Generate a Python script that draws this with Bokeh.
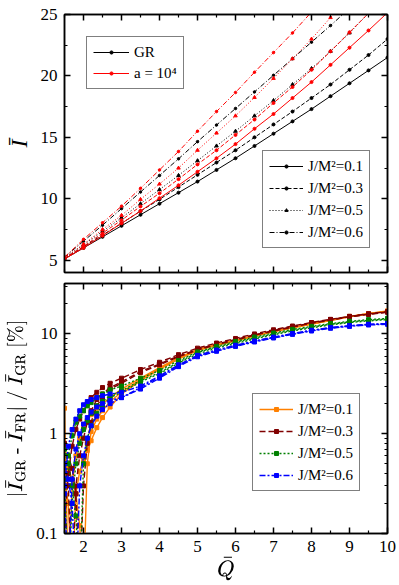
from bokeh.plotting import figure
from bokeh.layouts import column
from bokeh.models import (Range1d, LinearAxis, LogAxis, Legend, LegendItem,
                          FixedTicker, NumeralTickFormatter, CustomJSTickFormatter)
from bokeh.embed import file_html
from bokeh.resources import INLINE

FONT = "'Liberation Serif'"

# ---------------- data: top panel (I-bar vs Q-bar) ----------------
q_top = [1.5, 2.0, 2.5, 3.0, 3.5, 4.0, 4.5, 5.0, 5.5, 6.0, 6.5, 7.0, 7.5, 8.0, 8.5, 9.0, 9.5, 10.0]

i_gr_01 = [5.1, 6.0, 6.9, 7.8, 8.7, 9.6, 10.5, 11.4, 12.35, 13.3, 14.3, 15.3, 16.3, 17.3, 18.35, 19.4, 20.45, 21.5]
i_gr_03 = [5.15, 6.1, 7.05, 8.0, 9.0, 9.95, 10.95, 11.95, 12.95, 13.95, 15.0, 16.05, 17.1, 18.2, 19.3, 20.5, 21.7, 23.0]
i_gr_05 = [5.2, 6.25, 7.35, 8.45, 9.6, 10.75, 11.9, 13.1, 14.3, 15.5, 16.75, 18.0, 19.3, 20.6, 22.0, 23.5, 25.1]
i_gr_06 = [5.25, 6.55, 7.85, 9.2, 10.55, 11.9, 13.25, 14.65, 16.0, 17.35, 18.7, 20.05, 21.4, 22.75, 24.1, 25.5]

i_fr_01 = [5.1, 6.0, 7.0, 8.0, 9.0, 10.05, 11.1, 12.2, 13.3, 14.45, 15.7, 16.9, 18.2, 19.5, 20.9, 22.3, 23.7, 25.15]
i_fr_03 = [5.15, 6.12, 7.2, 8.26, 9.38, 10.45, 11.6, 12.8, 13.95, 15.2, 16.45, 17.8, 19.1, 20.5, 22.0, 23.55, 25.1]
i_fr_05 = [5.2, 6.3, 7.5, 8.65, 9.95, 11.2, 12.5, 13.95, 15.35, 16.75, 18.25, 19.8, 21.4, 23.0, 24.75, 26.6]
i_fr_06 = [5.25, 6.7, 8.05, 9.4, 10.85, 12.35, 13.85, 15.5, 17.1, 18.65, 20.3, 21.9, 23.5, 25.2]

# ---------------- data: bottom panel (relative difference, %) ----------------
q_bot = [1.5, 1.6, 1.7, 1.8, 1.9, 2.0, 2.1, 2.2, 2.35, 2.5, 2.7, 3.0,
         3.5, 4.0, 4.5, 5.0, 5.5, 6.0, 6.5, 7.0, 7.5, 8.0, 8.5, 9.0, 9.5, 10.0]

d01_a = [1.8, 0.03, 0.3, 0.6, 0.9, 1.15, 1.35, 1.55, 1.8, 2.0, 2.3, 2.8,
         3.6, 4.6, 5.8, 7.0, 7.8, 8.6, 9.6, 10.6, 11.6, 12.6, 13.8, 15.0, 16.0, 17.0]
d01_b = [0.35, 0.2, 0.03, 0.25, 0.42, 0.55, 0.68, 0.85, 1.15, 1.45, 1.85, 2.5,
         3.4, 4.4, 5.6, 6.8, 7.7, 8.5, 9.5, 10.5, 11.5, 12.5, 13.6, 14.8, 15.8, 16.8]
d01_c = [0.6, 0.45, 0.35, 0.25, 0.12, 0.03, 0.5, 1.05, 1.4, 1.7, 2.1, 2.6,
         3.5, 4.5, 5.7, 6.9, 7.8, 8.6, 9.6, 10.6, 11.6, 12.6, 13.7, 14.9, 15.9, 16.9]

d03_a = [0.5, 0.3, 0.03, 0.3, 0.6, 0.9, 1.3, 1.7, 2.2, 2.5, 2.9, 3.3,
         4.2, 5.0, 6.0, 7.0, 7.9, 8.8, 9.8, 10.8, 11.8, 12.9, 13.9, 14.9, 15.8, 16.6]
d03_b = [0.8, 0.6, 0.45, 0.25, 0.03, 0.3, 0.8, 1.3, 1.9, 2.3, 2.8, 3.2,
         4.1, 4.9, 5.9, 6.9, 7.8, 8.7, 9.7, 10.7, 11.7, 12.8, 13.8, 14.8, 15.7, 16.5]
d03_c = [0.12, 0.4, 0.75, 1.1, 1.4, 1.7, 2.0, 2.3, 2.6, 2.9, 3.2, 3.6,
         4.4, 5.2, 6.2, 7.2, 8.1, 9.0, 10.0, 11.0, 12.0, 13.0, 14.0, 15.0, 15.9, 16.7]

d05_a = [0.35, 0.03, 0.2, 0.5, 0.8, 1.1, 1.35, 1.6, 1.9, 2.1, 2.4, 2.7,
         3.4, 4.1, 5.2, 6.5, 7.4, 8.2, 9.1, 10.0, 10.9, 11.7, 12.5, 13.2, 13.7, 14.1]
d05_b = [0.7, 0.5, 0.3, 0.15, 0.03, 0.5, 0.9, 1.2, 1.6, 1.9, 2.3, 2.6,
         3.3, 4.0, 5.1, 6.3, 7.2, 8.0, 8.9, 9.8, 10.7, 11.5, 12.3, 13.0, 13.5, 13.9]
d05_c = [0.25, 0.6, 0.95, 1.3, 1.5, 1.7, 1.9, 2.05, 2.3, 2.5, 2.75, 3.0,
         3.6, 4.3, 5.4, 6.6, 7.5, 8.4, 9.3, 10.2, 11.1, 11.9, 12.7, 13.4, 13.9, 14.3]

d06_a = [0.3, 0.75, 1.1, 1.4, 1.7, 1.95, 2.1, 2.2, 2.3, 2.4, 2.5, 2.6,
         3.0, 3.8, 4.9, 6.1, 6.9, 7.7, 8.5, 9.3, 10.1, 10.9, 11.6, 12.1, 12.5, 12.7]
d06_b = [0.25, 0.03, 0.35, 0.7, 1.0, 1.25, 1.45, 1.65, 1.85, 2.0, 2.15, 2.3,
         2.9, 3.7, 4.8, 6.0, 6.8, 7.6, 8.4, 9.2, 10.0, 10.8, 11.5, 12.0, 12.4, 12.6]
d06_c = [0.5, 0.35, 0.2, 0.03, 0.3, 0.6, 0.9, 1.2, 1.5, 1.75, 2.0, 2.3,
         2.8, 3.6, 4.7, 5.9, 6.7, 7.5, 8.3, 9.1, 9.9, 10.7, 11.4, 11.9, 12.3, 12.5]

j_labels = ["J/M²=0.1", "J/M²=0.3", "J/M²=0.5", "J/M²=0.6"]
legend_gr = ["GR", "a = 10⁴"]

blank = CustomJSTickFormatter(code="return ''")


def style_axis(ax, show_labels=True):
    ax.axis_line_width = 1.5
    ax.axis_line_color = "black"
    ax.major_tick_in = 6
    ax.major_tick_out = 0
    ax.minor_tick_in = 3
    ax.minor_tick_out = 0
    ax.major_tick_line_width = 1.5
    ax.minor_tick_line_width = 1.2
    ax.major_label_text_font = FONT
    ax.major_label_text_font_size = "17px"
    ax.major_label_text_color = "black"
    ax.major_label_standoff = 7
    ax.axis_label_text_font = FONT
    ax.axis_label_text_font_style = "normal"
    ax.axis_label_text_color = "black"
    if not show_labels:
        ax.formatter = blank
        ax.major_label_standoff = 0


def base_fig(y_range, y_type, height, btop, bbottom):
    p = figure(width=399, height=height, x_range=Range1d(1.5, 10), y_range=y_range,
               y_axis_type=y_type, output_backend="svg", toolbar_location=None,
               min_border_left=61, min_border_right=12, min_border_top=btop,
               min_border_bottom=bbottom)
    p.grid.visible = False
    p.outline_line_color = "black"
    p.outline_line_width = 1.5
    p.background_fill_color = "white"
    p.border_fill_color = "white"
    return p


x_major = [2, 3, 4, 5, 6, 7, 8, 9, 10]
x_minor = [1.5, 2.5, 3.5, 4.5, 5.5, 6.5, 7.5, 8.5, 9.5]

# ---------------- top panel ----------------
p1 = base_fig(Range1d(4, 25), "linear", 277, 14, 5)
y1_ticker = FixedTicker(ticks=[5, 10, 15, 20, 25], minor_ticks=[7.5, 12.5, 17.5, 22.5])
x1_ticker = FixedTicker(ticks=x_major, minor_ticks=x_minor)
p1.xaxis.ticker = x1_ticker
p1.yaxis.ticker = y1_ticker
style_axis(p1.xaxis[0], False)
style_axis(p1.yaxis[0], True)
p1.yaxis.axis_label = "Ī"
p1.yaxis.axis_label_text_font_size = "24px"
p1.yaxis.axis_label_text_font_style = "italic"
p1.yaxis.axis_label_standoff = 6
ax_top = LinearAxis(ticker=x1_ticker)
ax_right = LinearAxis(ticker=y1_ticker)
style_axis(ax_top, False)
style_axis(ax_right, False)
p1.add_layout(ax_top, "above")
p1.add_layout(ax_right, "right")

gr_sets = [i_gr_01, i_gr_03, i_gr_05, i_gr_06]
fr_sets = [i_fr_01, i_fr_03, i_fr_05, i_fr_06]
top_dash = ["solid", "4 2", "1 2", "5 2 1 2"]
top_marker = ["circle", "circle", "triangle", "circle"]
top_msize = [3, 3, 3.5, 2.5]

gr_renderers = []
fr_renderers = []
for k in range(4):
    ys = gr_sets[k]
    xs = q_top[:len(ys)]
    l = p1.line(xs, ys, line_color="black", line_width=1, line_dash=top_dash[k])
    s = p1.scatter(xs, ys, marker=top_marker[k], size=top_msize[k], fill_color="black",
                   line_color="black")
    gr_renderers.append((l, s))
for k in range(4):
    ys = fr_sets[k]
    xs = q_top[:len(ys)]
    l = p1.line(xs, ys, line_color="red", line_width=1, line_dash=top_dash[k])
    s = p1.scatter(xs, ys, marker=top_marker[k], size=top_msize[k], fill_color="red",
                   line_color="red")
    fr_renderers.append((l, s))


def style_legend(lg, gw, gh):
    lg.label_text_font = FONT
    lg.label_text_font_size = "15px"
    lg.label_text_color = "black"
    lg.border_line_color = "black"
    lg.border_line_width = 1
    lg.background_fill_color = "white"
    lg.background_fill_alpha = 1
    lg.glyph_width = gw
    lg.glyph_height = gh
    lg.label_height = 18
    lg.label_standoff = 5
    lg.spacing = 4
    lg.padding = 6
    lg.margin = 0


leg1 = Legend(items=[LegendItem(label=legend_gr[0], renderers=list(gr_renderers[0])),
                     LegendItem(label=legend_gr[1], renderers=list(fr_renderers[0]))],
              location=(22, 183))
style_legend(leg1, 36, 8)
leg1.spacing = 3
p1.add_layout(leg1, "center")

leg2 = Legend(items=[LegendItem(label=j_labels[k], renderers=list(gr_renderers[k])) for k in range(4)],
              location=(198, 24))
style_legend(leg2, 34, 8)
p1.add_layout(leg2, "center")

# ---------------- bottom panel ----------------
p2 = base_fig(Range1d(0.1, 32), "log", 308, 6, 52)
x2_ticker = FixedTicker(ticks=x_major, minor_ticks=x_minor)
p2.xaxis.ticker = x2_ticker
minor_log = [0.2, 0.3, 0.4, 0.5, 0.6, 0.7, 0.8, 0.9, 2, 3, 4, 5, 6, 7, 8, 9, 20, 30]
y2_ticker = FixedTicker(ticks=[0.1, 1, 10], minor_ticks=minor_log)
p2.yaxis.ticker = y2_ticker
style_axis(p2.xaxis[0], True)
style_axis(p2.yaxis[0], True)
p2.yaxis.formatter = NumeralTickFormatter(format="0.[0]")
p2.xaxis.axis_label = r"$$\bar{Q}$$"
p2.xaxis.axis_label_text_font_size = "22px"
p2.xaxis.axis_label_standoff = 0
p2.yaxis.axis_label = r"$$|\bar{I}_{\rm GR}\ \text{-}\ \bar{I}_{\rm FR}|\ /\ \bar{I}_{\rm GR}\ [\%]$$"
p2.yaxis.axis_label_text_font_size = "18px"
p2.yaxis.axis_label_standoff = 6
ax_top2 = LinearAxis(ticker=x2_ticker)
ax_right2 = LogAxis(ticker=y2_ticker)
style_axis(ax_top2, False)
style_axis(ax_right2, False)
p2.add_layout(ax_top2, "above")
p2.add_layout(ax_right2, "right")

bot_colors = ["#ff8000", "#800000", "#008000", "#0000ff"]
bot_dash = ["solid", "6 3", "2 2", "6 2 2 2"]
bot_sets = [[d01_a, d01_b, d01_c], [d03_a, d03_b, d03_c],
            [d05_a, d05_b, d05_c], [d06_a, d06_b, d06_c]]
bot_first = []
for k in range(4):
    first = None
    for ys in bot_sets[k]:
        l = p2.line(q_bot, ys, line_color=bot_colors[k], line_width=1.4, line_dash=bot_dash[k])
        s = p2.scatter(q_bot, ys, marker="square", size=4, fill_color=bot_colors[k],
                       line_color=bot_colors[k])
        if first is None:
            first = (l, s)
    bot_first.append(first)

leg3 = Legend(items=[LegendItem(label=j_labels[k], renderers=list(bot_first[k])) for k in range(4)],
              location=(188, 42))
style_legend(leg3, 34, 10)
p2.add_layout(leg3, "center")

layout = column(p1, p2, spacing=0)
open("out.html", "w").write(file_html(layout, INLINE))
